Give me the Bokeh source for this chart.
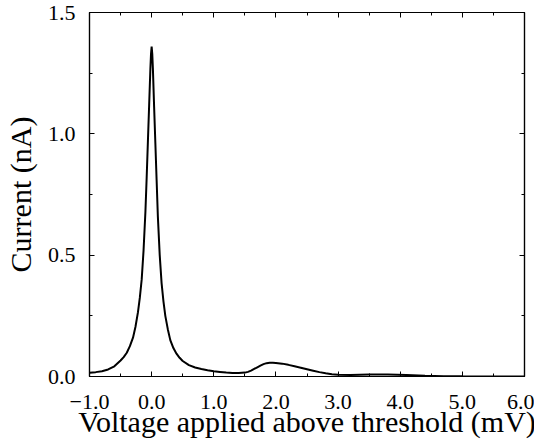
from bokeh.plotting import figure
from bokeh.models import LinearAxis, FixedTicker, CustomJSTickFormatter, Range1d
from bokeh.embed import file_html
from bokeh.resources import INLINE

# Data
voltage = [-1.0, -0.9, -0.8, -0.7, -0.6, -0.5, -0.45, -0.4, -0.35, -0.3, -0.26, -0.22,
           -0.19, -0.16, -0.13, -0.10, -0.08, -0.06, -0.04, -0.02, -0.01, 0.0,
           0.01, 0.02, 0.04, 0.06, 0.08, 0.10, 0.13, 0.16, 0.19, 0.22, 0.26, 0.3,
           0.35, 0.4, 0.45, 0.5, 0.6, 0.7, 0.8, 0.9, 1.0, 1.1, 1.2, 1.3, 1.4, 1.5,
           1.55, 1.6, 1.65, 1.7, 1.75, 1.8, 1.85, 1.9, 1.95, 2.0, 2.1, 2.2, 2.3,
           2.4, 2.5, 2.6, 2.7, 2.8, 2.9, 3.0, 3.2, 3.5, 3.8, 4.1, 4.4, 4.7, 5.0,
           5.5, 6.0]
current = [0.015, 0.018, 0.022, 0.029, 0.042, 0.066, 0.080, 0.098, 0.125, 0.160, 0.205, 0.265,
           0.325, 0.400, 0.520, 0.680, 0.820, 0.970, 1.120, 1.270, 1.330, 1.360,
           1.330, 1.270, 1.110, 0.960, 0.810, 0.660, 0.500, 0.385, 0.310, 0.250, 0.195, 0.150,
           0.117, 0.094, 0.077, 0.064, 0.047, 0.037, 0.031, 0.026, 0.022, 0.019, 0.016, 0.014, 0.014, 0.016,
           0.019, 0.024, 0.031, 0.038, 0.045, 0.051, 0.055, 0.057, 0.057, 0.056, 0.053, 0.048, 0.042,
           0.036, 0.030, 0.024, 0.018, 0.013, 0.009, 0.007, 0.006, 0.008, 0.008, 0.006, 0.003, 0.0015, 0.0008,
           0.0003, 0.0]

x_ticks = [-1, 0, 1, 2, 3, 4, 5, 6]
x_minor = [-0.5, 0.5, 1.5, 2.5, 3.5, 4.5, 5.5]
y_ticks = [0.0, 0.5, 1.0, 1.5]
y_minor = [0.25, 0.75, 1.25]

FONT = "Liberation Serif"

p = figure(frame_width=435, frame_height=364, output_backend="svg", toolbar_location=None,
           x_range=Range1d(-1, 6), y_range=Range1d(0, 1.5),
           x_axis_label="Voltage applied above threshold (mV)",
           y_axis_label="Current (nA)")
p.min_border_left = 88
p.min_border_right = 10
p.min_border_top = 12
p.min_border_bottom = 10
p.xgrid.visible = False
p.ygrid.visible = False
p.outline_line_color = "black"
p.outline_line_width = 1.2
p.background_fill_color = "white"
p.border_fill_color = "white"

p.line(voltage, current, line_color="black", line_width=2)

fmt = CustomJSTickFormatter(code="""
return (tick < 0 ? "\\u2212" : "") + Math.abs(tick).toFixed(1);
""")

xt = FixedTicker(ticks=x_ticks, minor_ticks=x_minor)
yt = FixedTicker(ticks=y_ticks, minor_ticks=y_minor)

p.add_layout(LinearAxis(), "above")
p.add_layout(LinearAxis(), "right")

for ax in p.xaxis:
    ax.ticker = xt
for ax in p.yaxis:
    ax.ticker = yt

for ax in p.axis:
    ax.formatter = fmt
    ax.axis_line_color = "black"
    ax.axis_line_width = 1.2
    ax.major_tick_in = 5
    ax.major_tick_out = 0
    ax.minor_tick_in = 3
    ax.minor_tick_out = 0
    ax.major_tick_line_color = "black"
    ax.minor_tick_line_color = "black"
    ax.major_label_text_font = FONT
    ax.major_label_text_font_size = "22px"
    ax.major_label_text_color = "black"
    ax.axis_label_text_font = FONT
    ax.axis_label_text_font_size = "30px"
    ax.axis_label_text_font_style = "normal"
    ax.axis_label_text_color = "black"

for ax in p.above + p.right:
    ax.major_label_text_font_size = "1px"
    ax.major_label_text_color = None
    ax.major_label_standoff = 0

p.below[0].major_label_standoff = 18
p.below[0].axis_label_standoff = -7
p.left[0].major_label_standoff = 14
p.left[0].axis_label_standoff = 8

open("out.html", "w").write(file_html(p, INLINE))
